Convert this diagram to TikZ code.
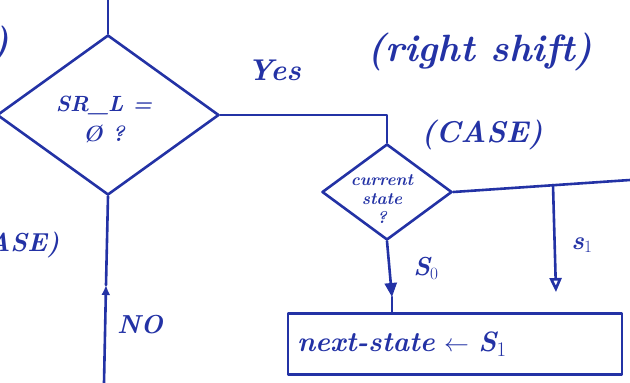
\documentclass[tikz,border=0pt]{standalone}
\usepackage{amsmath}
\usepackage{amssymb}
\usetikzlibrary{shapes.geometric,arrows.meta}

\definecolor{ink}{RGB}{35,50,165}

\begin{document}
\begin{tikzpicture}[x=1pt,y=-1pt,color=ink,
    line width=2.6pt,line cap=round,line join=round,
    txt/.style={text=ink,font=\bfseries\itshape\fontsize{26}{28}\selectfont},
    test/.style={shape=diamond,draw=ink,inner sep=0pt},
    openhead/.style={-{Triangle[open,length=14pt,width=12pt]}},
    fullhead/.style={-{Triangle[length=14pt,width=12pt]}},
    uphead/.style={-{Latex[length=10pt,width=9pt]}}]

    \useasboundingbox (0,0) rectangle (630,383);
    \clip (0,0) rectangle (630,383);

    % decision boxes
    \node[test,minimum width=222pt,minimum height=160pt] (srl) at (108,115) {};
    \node[txt,align=center,font=\bfseries\itshape\fontsize{22}{30}\selectfont] (srltxt) at (104,120) {SR\_L =\\ \O\ ?};
    \node[test,minimum width=130pt,minimum height=96pt] (cs) at (387,192) {};
    \node[txt,align=center,font=\bfseries\itshape\fontsize{17}{19}\selectfont] (cstxt) at (382,199) {current\\ state\\ ?};

    % assignment box
    \node[draw=ink,minimum width=334pt,minimum height=61pt,
          txt,font=\bfseries\itshape\fontsize{28}{30}\selectfont,
          text width=316pt,align=left] (box) at (455,344)
          {next-state $\leftarrow$ S$_1$};

    \coordinate (top) at (108,0);
    \coordinate (csout) at (630,180);
    \coordinate (s1top) at (553,185);
    \coordinate (s1tip) at (556,292);
    \coordinate (s0tip) at (392,297);
    \coordinate (noin) at (104,383);
    \coordinate (notip) at (106,285);

    \draw (top) -- (srl.north);
    \draw (srl.east) -| (cs.north);
    \draw (cs.east) -- (csout);
    \draw[openhead] (s1top) -- (s1tip);
    \draw[fullhead] (cs.south) -- (s0tip);
    \draw (s0tip) -- (s0tip |- box.north);
    \draw[uphead] (noin) -- (notip);
    \draw (notip) -- (srl.south);

    % labels
    \node[txt,font=\bfseries\itshape\fontsize{30}{32}\selectfont] (yes) at (274,70) {Yes};
    \node[txt,font=\bfseries\itshape\fontsize{38}{40}\selectfont] (shift) at (480,52) {(right shift)};
    \node[txt,font=\bfseries\itshape\fontsize{30}{32}\selectfont] (case) at (482,135) {(CASE)};
    \node[txt,anchor=east] (caseleft) at (64,245) {(CASE)};
    \node[txt,font=\bfseries\itshape\fontsize{38}{40}\selectfont] (paren) at (0,45) {)};
    \node[txt] (s1) at (582,245) {s$_1$};
    \node[txt] (s0) at (426,268) {S$_0$};
    \node[txt] (no) at (140,325) {NO};

\end{tikzpicture}
\end{document}
